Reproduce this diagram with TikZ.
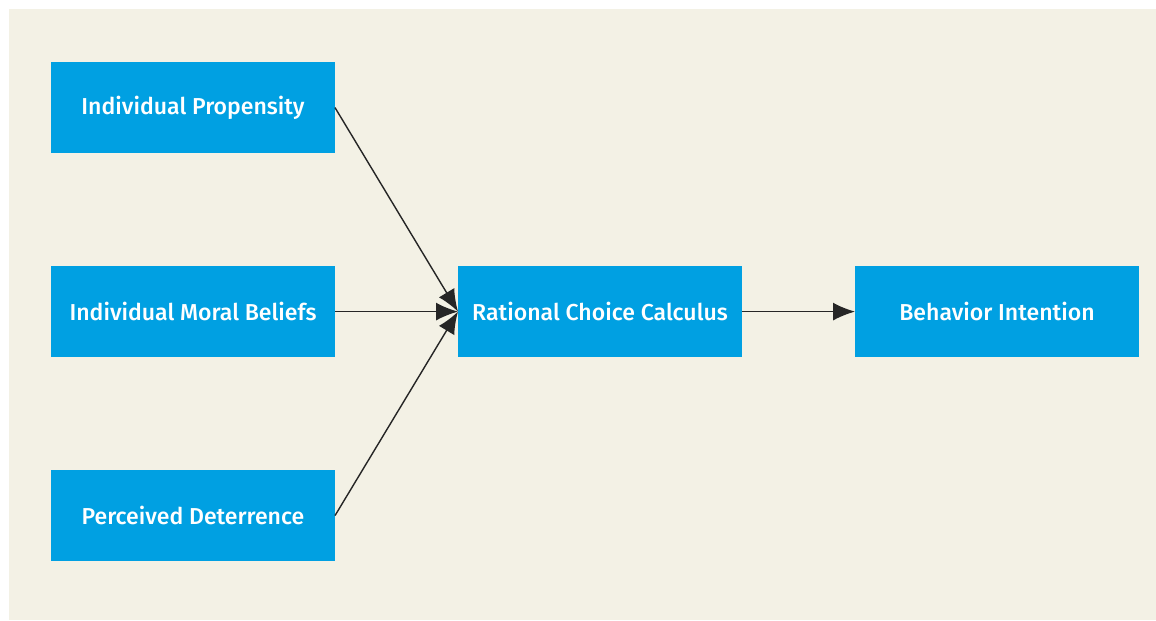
\documentclass[tikz,border=0pt]{standalone}
\usepackage{fontspec}
\setmainfont{Fira Sans}
\newfontfamily\boxfont{Fira Sans}[UprightFont=* Medium]
\usepackage{xcolor}
\usepackage{tikz}
\usetikzlibrary{arrows.meta,positioning}

\definecolor{boxblue}{RGB}{0,160,226}
\definecolor{paper}{RGB}{243,241,229}

\begin{document}
\begin{tikzpicture}[
    box/.style={rectangle, fill=boxblue, text=white, minimum width=7.1cm, minimum height=2.275cm, outer sep=0pt, text centered, font=\boxfont\fontsize{16.4}{19}\selectfont},
    arrow/.style={draw=black!85, line width=1pt, -{Latex[length=0.55cm, width=0.45cm]}}
  ]
    % Canvas
    \useasboundingbox (0,0) rectangle (28.9,15.5);
    \fill[paper] (0.225,0) rectangle (28.9,15.275);

    % Nodes
    \node[box] (propensity) at (4.825,12.81) {Individual Propensity};
    \node[box, below=2.825cm of propensity] (moral) {Individual Moral Beliefs};
    \node[box, below=2.825cm of moral] (deterrence) {Perceived Deterrence};
    \node[box, right=3.075cm of moral] (calculus) {Rational Choice Calculus};
    \node[box, right=2.825cm of calculus] (intention) {Behavior Intention};

    % Arrows
    \draw[arrow] (propensity.east) -- (calculus.west);
    \draw[arrow] (moral) -- (calculus);
    \draw[arrow] (deterrence.east) -- (calculus.west);
    \draw[arrow] (calculus) -- (intention);
  \end{tikzpicture}
\end{document}
